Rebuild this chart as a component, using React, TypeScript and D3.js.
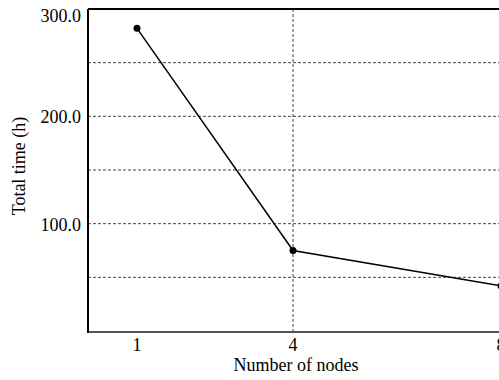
import React from "react";
import * as d3 from "d3";

const nodes = [1, 4, 8];
const totalTime = [282, 75, 42];
const yTicks = [100, 200, 300];
const yGrid = [50, 100, 150, 200, 250];
const xTicks = [1, 4, 8];
const xGrid = [4, 8];

const W = 499;
const H = 380;
const FONT = "'Liberation Serif', 'Times New Roman', serif";

export default function App() {
  const x = d3.scaleLinear().domain([1, 8]).range([137, 501]);
  const y = d3.scaleLinear().domain([0, 300]).range([331, 9]);
  const left = 88;
  const right = 520;
  const top = y(300);
  const bottom = y(0);
  const line = d3
    .line<number>()
    .x((_, i) => x(nodes[i]))
    .y((d) => y(d));

  return (
    <svg
      width={W}
      height={H}
      style={{ position: "absolute", left: 0, top: 0, display: "block", background: "#fff" }}
      fontFamily={FONT}
    >
      {yGrid.map((v) => (
        <line key={"gy" + v} x1={left} x2={right} y1={y(v)} y2={y(v)} stroke="#444" strokeWidth={1} strokeDasharray="3,2" />
      ))}
      {xGrid.map((v) => (
        <line key={"gx" + v} x1={x(v)} x2={x(v)} y1={top} y2={bottom} stroke="#444" strokeWidth={1} strokeDasharray="3,2" />
      ))}
      <line x1={left} x2={right} y1={top} y2={top} stroke="#000" strokeWidth={2} />
      <line x1={left} x2={right} y1={bottom + 1} y2={bottom + 1} stroke="#555" strokeWidth={2} />
      <line x1={left} x2={left} y1={top} y2={bottom + 2} stroke="#000" strokeWidth={2} />
      <path d={line(totalTime) || ""} fill="none" stroke="#000" strokeWidth={1.5} />
      {totalTime.map((v, i) => (
        <circle key={"p" + i} cx={x(nodes[i])} cy={y(v)} r={3.5} fill="#000" />
      ))}
      {yTicks.map((v) => (
        <text
          key={"ty" + v}
          x={81}
          y={v === 300 ? y(v) + 9 : y(v) + 3}
          textAnchor="end"
          dominantBaseline="middle"
          fontSize={18}
          fill="#000"
        >
          {v.toFixed(1)}
        </text>
      ))}
      {xTicks.map((v) => (
        <text key={"tx" + v} x={x(v)} y={351} textAnchor="middle" fontSize={18} fill="#000">
          {v}
        </text>
      ))}
      <text x={296} y={371} textAnchor="middle" fontSize={18} fill="#000">
        Number of nodes
      </text>
      <text
        transform={`translate(21,166) rotate(-90)`}
        textAnchor="middle"
        dominantBaseline="middle"
        fontSize={18}
        fill="#000"
      >
        Total time (h)
      </text>
    </svg>
  );
}
